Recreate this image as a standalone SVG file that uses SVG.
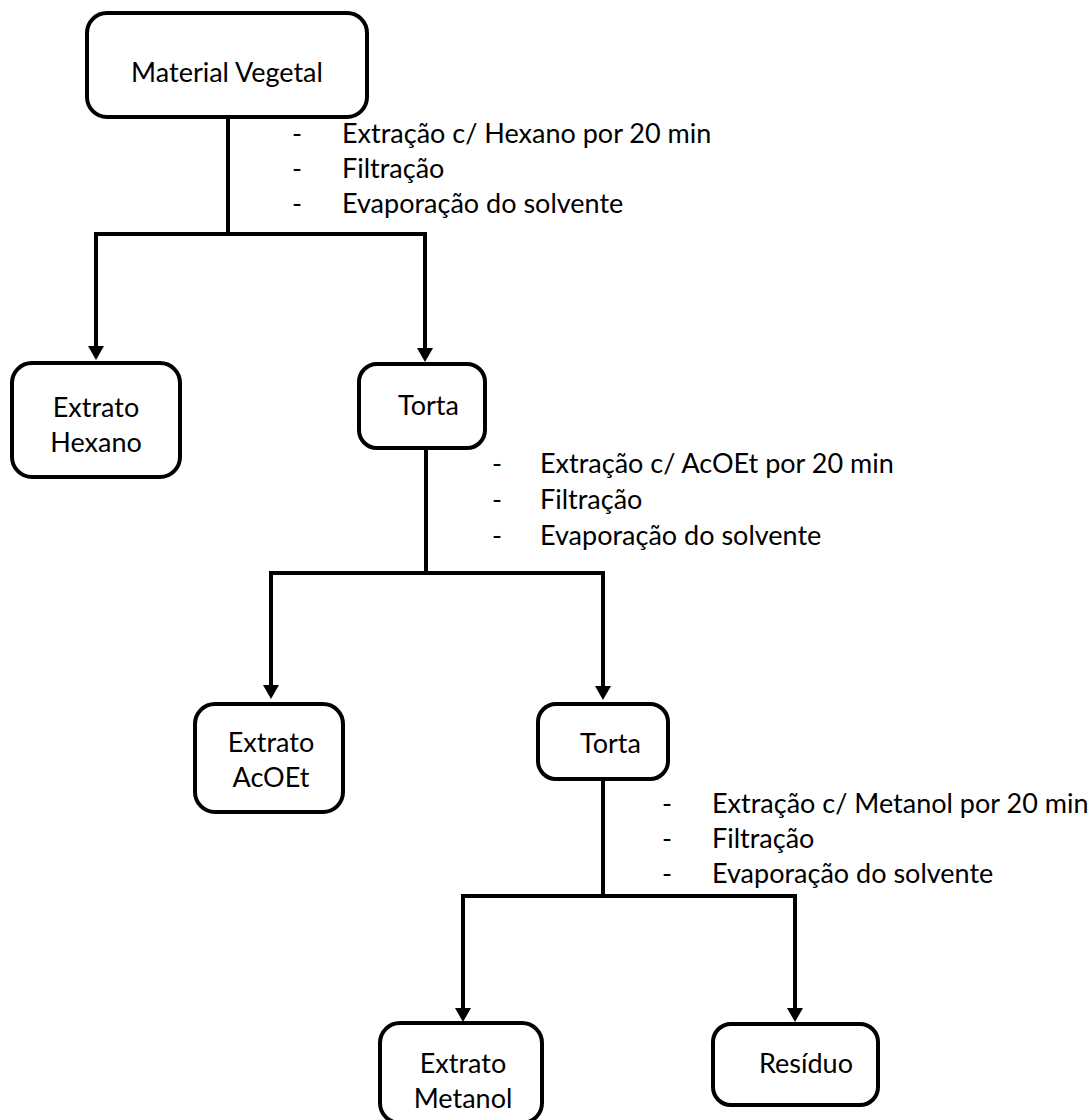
<svg xmlns="http://www.w3.org/2000/svg" width="1092" height="1120" viewBox="0 0 1092 1120">
<defs>
<style>
.box{fill:#fff;stroke:#000;stroke-width:4}
.ln{fill:none;stroke:#000;stroke-width:4}
.arr{fill:none;stroke:#000;stroke-width:4;marker-end:url(#ah)}
text{font-family:Lato,"Liberation Sans",sans-serif;font-size:27px;fill:#000}
.c{text-anchor:middle}
</style>
<marker id="ah" markerUnits="userSpaceOnUse" markerWidth="14" markerHeight="16" viewBox="0 0 14 16" refX="3" refY="8" orient="auto">
<path d="M0,0 L14,8 L0,16 z" fill="#000"/>
</marker>
</defs>
<rect width="1092" height="1120" fill="#fff"/>
<g id="connectors">
<path class="ln" d="M228,117 V234"/>
<path class="arr" d="M228,234 H96 V349"/>
<path class="arr" d="M228,234 H425 V351"/>
<path class="ln" d="M426,448 V573"/>
<path class="arr" d="M426,573 H271 V688"/>
<path class="arr" d="M426,573 H603 V689"/>
<path class="ln" d="M603,779 V896"/>
<path class="arr" d="M603,896 H463 V1011"/>
<path class="arr" d="M603,896 H795 V1011"/>
</g>
<g id="steps1">
<text x="292" y="143">-</text><text x="342" y="143">Extração c/ Hexano por 20 min</text>
<text x="292" y="178">-</text><text x="342" y="178">Filtração</text>
<text x="292" y="213">-</text><text x="342" y="213">Evaporação do solvente</text>
</g>
<g id="steps2">
<text x="492" y="473">-</text><text x="540" y="473">Extração c/ AcOEt por 20 min</text>
<text x="492" y="509">-</text><text x="540" y="509">Filtração</text>
<text x="492" y="545">-</text><text x="540" y="545">Evaporação do solvente</text>
</g>
<g id="steps3">
<text x="662" y="813">-</text><text x="712" y="813">Extração c/ Metanol por 20 min</text>
<text x="662" y="848">-</text><text x="712" y="848">Filtração</text>
<text x="662" y="883">-</text><text x="712" y="883">Evaporação do solvente</text>
</g>
<g id="material-vegetal">
<rect class="box" x="87" y="13" width="280" height="104" rx="20"/>
<text class="c" x="227" y="82">Material Vegetal</text>
</g>
<g id="extrato-hexano">
<rect class="box" x="12" y="363" width="168" height="114" rx="20"/>
<text class="c" x="96" y="417">Extrato</text>
<text class="c" x="96" y="452">Hexano</text>
</g>
<g id="torta1">
<rect class="box" x="359" y="364" width="126" height="84" rx="18"/>
<text x="398" y="415">Torta</text>
</g>
<g id="extrato-acoet">
<rect class="box" x="195" y="704" width="148" height="108" rx="20"/>
<text class="c" x="271" y="752">Extrato</text>
<text class="c" x="271" y="787">AcOEt</text>
</g>
<g id="torta2">
<rect class="box" x="538" y="704" width="130" height="75" rx="18"/>
<text x="580" y="753">Torta</text>
</g>
<g id="extrato-metanol">
<rect class="box" x="380" y="1023" width="162" height="100" rx="20"/>
<text class="c" x="463" y="1073">Extrato</text>
<text class="c" x="463" y="1108">Metanol</text>
</g>
<g id="residuo">
<rect class="box" x="713" y="1024" width="165" height="81" rx="18"/>
<text x="759" y="1073">Resíduo</text>
</g>
</svg>
